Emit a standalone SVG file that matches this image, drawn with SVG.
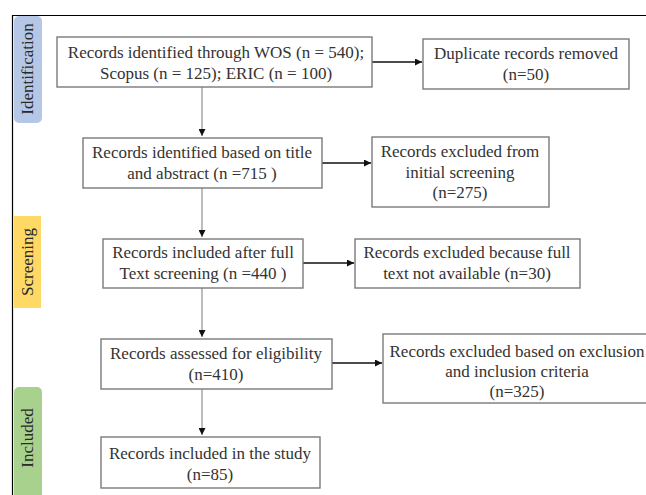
<svg xmlns="http://www.w3.org/2000/svg" width="646" height="495" viewBox="0 0 646 495">
<style>
.box{fill:#fff;stroke:#7a7a7a;stroke-width:1.4}
.t{font-family:"Liberation Serif","Times New Roman",serif;font-size:17px;fill:#333;text-anchor:middle}
.side{font-family:"Liberation Serif","Times New Roman",serif;font-size:17px;fill:#2a2a2a;text-anchor:middle}
.h{stroke:#111;stroke-width:1.6;fill:none}
.v{stroke:#9a9a9a;stroke-width:1.3;fill:none}
</style>
<defs>
<marker id="ah" viewBox="0 0 10 10" refX="10" refY="5" markerWidth="7" markerHeight="7" markerUnits="userSpaceOnUse" orient="auto">
<path d="M0,0 L10,5 L0,10 z" fill="#111"/>
</marker>
</defs>
<rect width="646" height="495" fill="#fff"/>
<g id="frame"><path d="M12.5,495 V15.5 H646" stroke="#000" stroke-width="1.2" fill="none"/></g>
<g id="lane-identification"><rect x="14" y="16" width="28" height="107" rx="5" fill="#b4c7e7"/><text class="side" transform="translate(33,69) rotate(-90)">Identification</text></g>
<g id="lane-screening"><rect x="14" y="216" width="27" height="92" fill="#ffd966"/><text class="side" transform="translate(33,262) rotate(-90)">Screening</text></g>
<g id="lane-included"><rect x="14" y="387" width="28" height="115" rx="5" fill="#a9d18e"/><text class="side" transform="translate(33,438) rotate(-90)">Included</text></g>
<g id="connectors">
<path class="v" d="M202,87 V136" marker-end="url(#ah)"/>
<path class="v" d="M202,188 V237" marker-end="url(#ah)"/>
<path class="v" d="M202,288 V337" marker-end="url(#ah)"/>
<path class="v" d="M202,389 V435" marker-end="url(#ah)"/>
<path class="h" d="M372,62 H422" marker-end="url(#ah)"/>
<path class="h" d="M322,163 H371" marker-end="url(#ah)"/>
<path class="h" d="M303,263 H354" marker-end="url(#ah)"/>
<path class="h" d="M332,363 H382" marker-end="url(#ah)"/>
</g>
<g id="n1"><rect class="box" x="57" y="37" width="315" height="50"/><text class="t" x="216" y="58">Records identified through WOS (n = 540);</text><text class="t" x="216" y="79">Scopus (n = 125); ERIC (n = 100)</text></g>
<g id="n2"><rect class="box" x="423" y="39" width="206" height="50"/><text class="t" x="526" y="59">Duplicate records removed</text><text class="t" x="526" y="80">(n=50)</text></g>
<g id="n3"><rect class="box" x="83" y="138" width="239" height="50"/><text class="t" x="202" y="158">Records identified based on title</text><text class="t" x="202" y="179">and abstract (n =715 )</text></g>
<g id="n4"><rect class="box" x="372" y="137" width="177" height="70"/><text class="t" x="460" y="157">Records excluded from</text><text class="t" x="460" y="178">initial screening</text><text class="t" x="460" y="198">(n=275)</text></g>
<g id="n5"><rect class="box" x="103" y="239" width="200" height="49"/><text class="t" x="203" y="258">Records included after full</text><text class="t" x="203" y="279">Text screening (n =440 )</text></g>
<g id="n6"><rect class="box" x="355" y="239" width="225" height="49"/><text class="t" x="467" y="258">Records excluded because full</text><text class="t" x="467" y="279">text not available (n=30)</text></g>
<g id="n7"><rect class="box" x="101" y="339" width="231" height="50"/><text class="t" x="216" y="359">Records assessed for eligibility</text><text class="t" x="216" y="380">(n=410)</text></g>
<g id="n8"><rect class="box" x="383" y="334" width="270" height="69"/><text class="t" x="517" y="357">Records excluded based on exclusion</text><text class="t" x="517" y="377">and inclusion criteria</text><text class="t" x="517" y="397">(n=325)</text></g>
<g id="n9"><rect class="box" x="101" y="437" width="219" height="51"/><text class="t" x="210" y="459">Records included in the study</text><text class="t" x="210" y="480">(n=85)</text></g>
</svg>
